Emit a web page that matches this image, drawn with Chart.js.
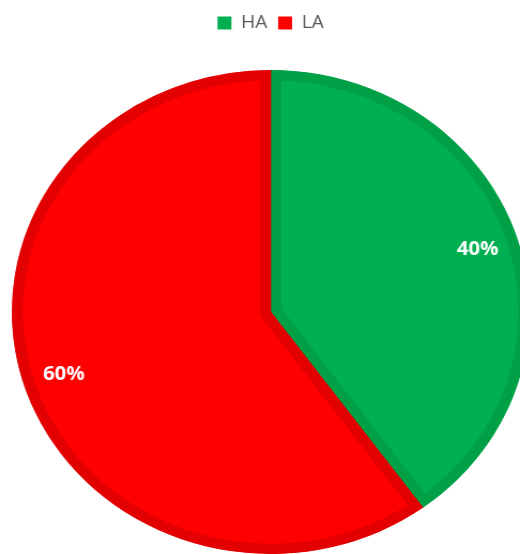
<!DOCTYPE html>
<html>
<head>
<meta charset="utf-8">
<script src="https://cdn.jsdelivr.net/npm/chart.js@4"></script>
<style>
  html, body { margin: 0; padding: 0; background: #fff; overflow: hidden; }
  #wrap {
    position: absolute; left: 0; top: 0;
    width: 506px; height: 582px;
    transform: scaleX(1.07); transform-origin: 0 0;
  }
</style>
</head>
<body>
<div id="wrap"><canvas id="pieChart" width="506" height="582"></canvas></div>
<script>
var categories = ['HA', 'LA'];
var shares = [40, 60]; // percent
var fillColors = ['#00B050', '#FF0000'];
var edgeColors = ['#00A046', '#E20000'];

// white percentage labels inside each slice
var sliceLabels = {
  id: 'sliceLabels',
  afterDatasetsDraw: function(chart) {
    var ctx = chart.ctx;
    var meta = chart.getDatasetMeta(0);
    ctx.save();
    ctx.fillStyle = '#fff';
    ctx.font = 'bold 19px "Open Sans", sans-serif';
    ctx.textAlign = 'center';
    ctx.textBaseline = 'middle';
    meta.data.forEach(function(arc, i) {
      var p = arc.getProps(['x', 'y', 'startAngle', 'endAngle', 'outerRadius'], true);
      var mid = (p.startAngle + p.endAngle) / 2;
      var r = p.outerRadius * 0.84;
      ctx.fillText(shares[i] + '%', p.x + Math.cos(mid) * r, p.y + Math.sin(mid) * r);
    });
    ctx.restore();
  }
};

var ctx = document.getElementById('pieChart').getContext('2d');
var pieChart = new Chart(ctx, {
  type: 'pie',
  data: {
    labels: categories,
    datasets: [{
      data: shares,
      backgroundColor: fillColors,
      borderColor: edgeColors,
      borderWidth: 10,
      borderAlign: 'inner',
      hoverOffset: 0
    }]
  },
  options: {
    responsive: false,
    animation: false,
    layout: { padding: { left: 11, right: 11, top: 4 } },
    plugins: {
      legend: {
        position: 'top',
        labels: {
          boxWidth: 13,
          boxHeight: 13,
          padding: 10,
          color: '#595959',
          font: { family: '"Open Sans", sans-serif', size: 18 },
          generateLabels: function(chart) {
            return categories.map(function(name, i) {
              return {
                text: name,
                fillStyle: fillColors[i],
                strokeStyle: fillColors[i],
                lineWidth: 0,
                fontColor: '#595959',
                index: i
              };
            });
          }
        }
      },
      tooltip: { enabled: false }
    }
  },
  plugins: [sliceLabels]
});
</script>
</body>
</html>
